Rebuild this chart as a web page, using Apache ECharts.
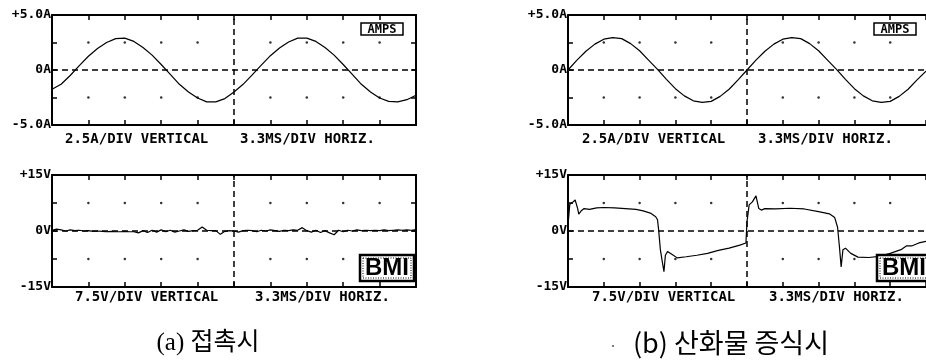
<!DOCTYPE html>
<html><head><meta charset="utf-8">
<script src="https://cdn.jsdelivr.net/npm/echarts@6/dist/echarts.min.js"></script>
<style>html,body{margin:0;padding:0;background:#fff}#c{width:926px;height:361px}</style>
</head><body><div id="c"></div>
<script>
// ---- data (x in horizontal divisions, 3.3 ms/div) ----
const divisionTicks = [0,1,2,3,4,5,6,7,8,9,10];
const currentTickLabels = {'5':'+5.0A','0':'0A','-5':'-5.0A'};
const voltTickLabels = {'15':'+15V','0':'0V','-15':'-15V'};
const currentStep = 0.25;
const currentA = [-1.75,-1.3,-0.5,0.4,1.25,1.95,2.5,2.85,2.9,2.6,2.05,1.35,0.5,-0.4,-1.3,-2.0,-2.55,-2.9,-2.9,-2.6,-2.0,-1.3,-0.45,0.45,1.3,2.0,2.55,2.9,2.9,2.6,2.05,1.35,0.5,-0.4,-1.3,-2.0,-2.55,-2.85,-2.9,-2.7,-2.3];
const currentB = [0,0.9,1.7,2.35,2.8,2.95,2.85,2.4,1.75,0.9,0.05,-0.85,-1.7,-2.35,-2.8,-2.95,-2.85,-2.4,-1.75,-0.9,0,0.9,1.7,2.35,2.8,2.95,2.85,2.4,1.75,0.9,0.05,-0.85,-1.7,-2.35,-2.8,-2.95,-2.85,-2.4,-1.75,-0.9,-0.1];
const voltStep = 0.125;
const voltA = [0.2,0.5,0.3,0.0,0.3,0.1,0.2,0.0,0.1,-0.1,0.0,-0.1,-0.2,-0.1,-0.2,-0.2,-0.1,-0.2,-0.2,-0.5,0.1,-0.4,0.2,-0.3,0.3,-0.2,0.2,-0.3,0.0,0.3,-0.1,0.1,0.2,1.1,0.2,0.1,0.1,-0.9,-0.1,0.1,0.0,-0.3,0.1,0.2,0.1,-0.2,0.2,0.0,0.3,0.1,-0.1,0.2,0.1,0.3,0.2,0.9,0.1,-0.3,0.2,-0.4,0.1,-0.5,-1.0,0.2,-0.2,0.2,0.0,0.3,0.1,0.2,0.1,0.2,0.1,0.3,0.1,0.2,0.3,0.2,0.3,0.2,0.4];
const voltBTime = [0.00,0.05,0.12,0.20,0.27,0.30,0.38,0.45,0.6,0.8,1.0,1.3,1.6,1.9,2.1,2.3,2.45,2.5,2.53,2.58,2.63,2.68,2.72,2.78,2.9,3.05,3.3,3.6,3.9,4.2,4.5,4.8,4.97,5.0,5.06,5.15,5.25,5.33,5.4,5.5,5.8,6.2,6.6,7.0,7.3,7.45,7.53,7.58,7.63,7.68,7.75,7.9,8.1,8.4,8.7,9.0,9.3,9.45,9.5,9.6,9.8,10.0];
const voltBValue = [1.5,7.2,7.6,8.3,6.0,4.5,5.5,6.0,5.8,6.2,6.3,6.2,6.0,5.8,5.4,4.8,3.8,3.0,0.5,-5.0,-8.0,-10.9,-6.5,-5.5,-6.2,-7.2,-6.9,-6.5,-6.0,-5.2,-4.6,-3.8,-3.2,2.5,7.0,7.8,9.4,6.0,5.6,6.0,5.9,6.1,5.9,5.2,4.6,3.6,1.0,-4.0,-9.6,-5.0,-4.6,-6.0,-7.0,-7.1,-6.8,-6.0,-5.0,-4.0,-3.5,-4.0,-3.2,-2.8];
const footerVertical = ['2.5A/DIV VERTICAL','7.5V/DIV VERTICAL'];
const footerHoriz = '3.3MS/DIV HORIZ.';
const captions = ['(a) 접촉시','(b) 산화물 증식시'];

// ---- layout ----
const grids = [
  {left:52, top:15, width:364, height:110},
  {left:52, top:175, width:364, height:112},
  {left:568, top:15, width:360, height:110},
  {left:568, top:175, width:360, height:112}
];
const kinds = ['current','volt','current','volt'];
const seriesData = [
  currentA.map((v,i)=>[i*currentStep, v]),
  voltA.map((v,i)=>[i*voltStep, v]),
  currentB.map((v,i)=>[i*currentStep, v]),
  voltBTime.map((t,i)=>[t, voltBValue[i]])
];
const MONO = "'DejaVu Sans Mono', monospace";
const axisLine = {show:true, onZero:false, lineStyle:{color:'#000', width:2}};
const axisTick = {show:true, inside:true, length:5, lineStyle:{color:'#000', width:1.5}};

const xAxis = [], yAxis = [], series = [];
grids.forEach((g, i) => {
  const isCur = kinds[i] === 'current';
  const lim = isCur ? 5 : 15;
  const labels = isCur ? currentTickLabels : voltTickLabels;
  const clippedRight = g.left + g.width > 926;
  ['bottom','top'].forEach(pos => xAxis.push({
    gridIndex:i, type:'value', min:0, max:10, interval:1, position:pos,
    axisLine, axisTick, axisLabel:{show:false}, splitLine:{show:false}
  }));
  ['left','right'].forEach(pos => yAxis.push({
    gridIndex:i, type:'value', min:-lim, max:lim, interval:lim/2, position:pos,
    show: !(pos === 'right' && clippedRight),
    axisLine, axisTick, splitLine:{show:false},
    axisLabel: pos === 'left' ? {
      show:true, margin:1, showMinLabel:true, showMaxLabel:true, hideOverlap:false,
      color:'#000', fontFamily:MONO, fontWeight:'bold', fontSize:13,
      formatter: v => labels[String(v)] || ''
    } : {show:false}
  }));
  // graticule dots at division intersections
  const dots = [];
  divisionTicks.filter(d => d > 0 && d < 10 && d !== 5).forEach(d => {
    [lim/2, -lim/2].forEach(y => dots.push([d, y]));
  });
  series.push({
    type:'scatter', xAxisIndex:2*i, yAxisIndex:2*i, data:dots, symbolSize:2.5,
    itemStyle:{color:'#000'}, silent:true,
    markLine:{silent:true, symbol:['none','none'], label:{show:false},
      lineStyle:{type:[6,4], color:'#000', width:1.5},
      data:[{yAxis:0},{xAxis:5}]}
  });
  series.push({
    type:'line', xAxisIndex:2*i, yAxisIndex:2*i, data:seriesData[i],
    symbol:'none', lineStyle:{color:'#000', width:1.2}, z:5
  });
});

function txt(x, y, text, font, align) {
  return {type:'text', x, y, z:100, style:{text, font, fill:'#000',
    textAlign:align||'left', textVerticalAlign:'middle', align:align||'left', verticalAlign:'middle'}};
}
const graphic = [];
// footers
graphic.push(txt(65,139,footerVertical[0],'bold 14px '+MONO));
graphic.push(txt(240,139,footerHoriz,'bold 14px '+MONO));
graphic.push(txt(582,139,footerVertical[0],'bold 14px '+MONO));
graphic.push(txt(758,139,footerHoriz,'bold 14px '+MONO));
graphic.push(txt(75,297,footerVertical[1],'bold 14px '+MONO));
graphic.push(txt(255,297,footerHoriz,'bold 14px '+MONO));
graphic.push(txt(592,297,footerVertical[1],'bold 14px '+MONO));
graphic.push(txt(769,297,footerHoriz,'bold 14px '+MONO));
// AMPS boxes
[361, 874].forEach(x => {
  graphic.push({type:'rect', z:99, shape:{x:x, y:23, width:42, height:12},
    style:{fill:'#fff', stroke:'#000', lineWidth:1.5}});
  graphic.push(txt(x+21, 29.5, 'AMPS', 'bold 12px '+MONO, 'center'));
});
// BMI boxes
[360, 877].forEach(x => {
  graphic.push({type:'rect', z:99, shape:{x:x, y:255, width:54, height:26},
    style:{fill:'#fff', stroke:'#000', lineWidth:2.5}});
  graphic.push({type:'rect', z:99, shape:{x:x+3, y:258, width:48, height:20},
    style:{fill:'none', stroke:'#000', lineWidth:1, lineDash:[1,1.5]}});
  graphic.push(txt(x+27, 268.5, 'BMI', "bold 24px 'Liberation Sans', Arial, sans-serif", 'center'));
});
// captions
graphic.push(txt(208,343,captions[0],"25px 'Liberation Serif','Noto Sans CJK KR', serif",'center'));
graphic.push(txt(731,343,captions[1],"27px 'Noto Sans CJK KR', sans-serif",'center'));
graphic.push({type:'circle', z:100, shape:{cx:613, cy:346, r:1}, style:{fill:'#555'}});

const chart = echarts.init(document.getElementById('c'), null, {renderer:'canvas'});
chart.setOption({
  backgroundColor:'#fff', animation:false,
  grid: grids.map(g => Object.assign({containLabel:false}, g)),
  xAxis, yAxis, series, graphic
});
</script></body></html>
